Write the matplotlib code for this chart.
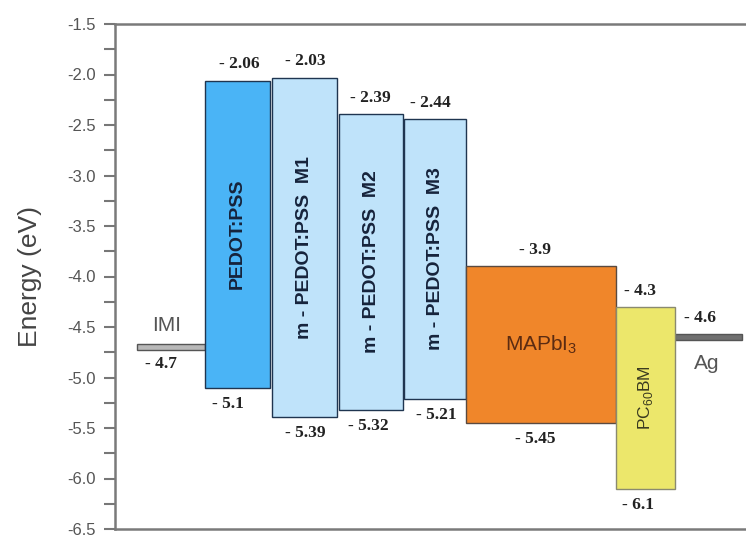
import matplotlib
matplotlib.use("Agg")
import matplotlib.pyplot as plt
from matplotlib.patches import Rectangle
from matplotlib.ticker import MultipleLocator

plt.rcParams["font.family"] = ["Liberation Sans", "DejaVu Sans"]
plt.rcParams["mathtext.fontset"] = "custom"
plt.rcParams["mathtext.rm"] = "Liberation Sans"

# ---- energy levels (eV) ----
layers = ["PEDOT:PSS", "m - PEDOT:PSS  M1", "m - PEDOT:PSS  M2", "m - PEDOT:PSS  M3",
          r"MAPbI$_{\mathregular{3}}$", r"PC$_{\mathregular{60}}$BM"]
lumo = [-2.06, -2.03, -2.39, -2.44, -3.9, -4.3]
homo = [-5.1, -5.39, -5.32, -5.21, -5.45, -6.1]
lumo_text = ["- 2.06", "- 2.03", "- 2.39", "- 2.44", "- 3.9", "- 4.3"]
homo_text = ["- 5.1", "- 5.39", "- 5.32", "- 5.21", "- 5.45", "- 6.1"]

electrodes = ["IMI", "Ag"]
work_function = [-4.7, -4.6]
wf_text = ["- 4.7", "- 4.6"]

# ---- layout (horizontal extents in axis units) ----
bar_left = [205, 272, 339, 404, 466, 616]
bar_right = [270, 337, 403, 466, 616, 675]
bar_face = ["#4ab4f6", "#bfe3fa", "#bfe3fa", "#bfe3fa", "#f0862a", "#ece76b"]
bar_edge = ["#1f3550", "#1f3550", "#1f3550", "#1f3550", "#5a4a40", "#8a8a70"]
text_color = ["#16233b", "#16233b", "#16233b", "#16233b", "#5b2b12", "#3a3a20"]
text_rot = [90, 90, 90, 90, 0, 90]
text_size = [14, 14, 14, 14, 15, 12.5]
text_weight = ["bold", "bold", "bold", "bold", "normal", "normal"]
top_dx = [2, 1, -1, -5, -6, -5]
bot_dx = [-10, 1, -3, 1, -6, -8]

el_left = [137, 675]
el_right = [205, 742]
el_face = ["#b8b8b8", "#707070"]
el_thick = 0.06

fig = plt.figure(figsize=(7.46, 5.38), dpi=100)
ax = fig.add_axes([115 / 746, 9 / 538, 645 / 746, 505 / 538])
ax.set_xlim(115, 760)

val_font = dict(family=["Liberation Serif", "DejaVu Serif"], weight="bold",
                size=12.5, color="#222222")

for i, name in enumerate(layers):
    x0, x1 = bar_left[i], bar_right[i]
    ax.add_patch(Rectangle((x0, homo[i]), x1 - x0, lumo[i] - homo[i],
                           facecolor=bar_face[i], edgecolor=bar_edge[i],
                           linewidth=1.0, zorder=2))
    xc = (x0 + x1) / 2
    ax.text(xc, (lumo[i] + homo[i]) / 2, name, rotation=text_rot[i],
            ha="center", va="center", fontsize=text_size[i],
            fontweight=text_weight[i], color=text_color[i], zorder=3)
    ax.text(xc + top_dx[i], lumo[i] + 0.08, lumo_text[i], ha="center",
            va="bottom", **val_font)
    ax.text(xc + bot_dx[i], homo[i] - 0.08, homo_text[i], ha="center",
            va="top", **val_font)

# electrode work-function levels
for i, name in enumerate(electrodes):
    x0, x1 = el_left[i], el_right[i]
    ax.add_patch(Rectangle((x0, work_function[i] - el_thick / 2), x1 - x0, el_thick,
                           facecolor=el_face[i], edgecolor="#555555",
                           linewidth=1.0, zorder=1))
    xc = (x0 + x1) / 2
    if i == 0:
        ax.text(xc - 4, work_function[i] + 0.16, name, ha="center",
                va="baseline", fontsize=15, color="#555555")
        ax.text(xc - 10, work_function[i] - 0.09, wf_text[i], ha="center",
                va="top", **val_font)
    else:
        ax.text(xc - 2, work_function[i] - 0.17, name, ha="center",
                va="top", fontsize=15, color="#555555")
        ax.text(xc - 9, work_function[i] + 0.11, wf_text[i], ha="center",
                va="bottom", **val_font)

# axes styling
ax.yaxis.set_major_locator(MultipleLocator(0.5))
ax.yaxis.set_minor_locator(MultipleLocator(0.25))
ax.set_ylim(-6.5, -1.5)
ax.yaxis.set_major_formatter(lambda v, pos: f"{v:.1f}")
ax.tick_params(axis="y", which="both", direction="out", length=8, width=1.5,
               color="#777777", labelsize=12, labelcolor="#555555", pad=6)
ax.set_xticks([])
for side in ["left", "top", "bottom"]:
    ax.spines[side].set_color("#7a7a7a")
    ax.spines[side].set_linewidth(1.8)
ax.spines["right"].set_visible(False)
ax.set_ylabel("Energy (eV)", fontsize=19, color="#444444", labelpad=18)

fig.savefig("out.png", dpi=100)
